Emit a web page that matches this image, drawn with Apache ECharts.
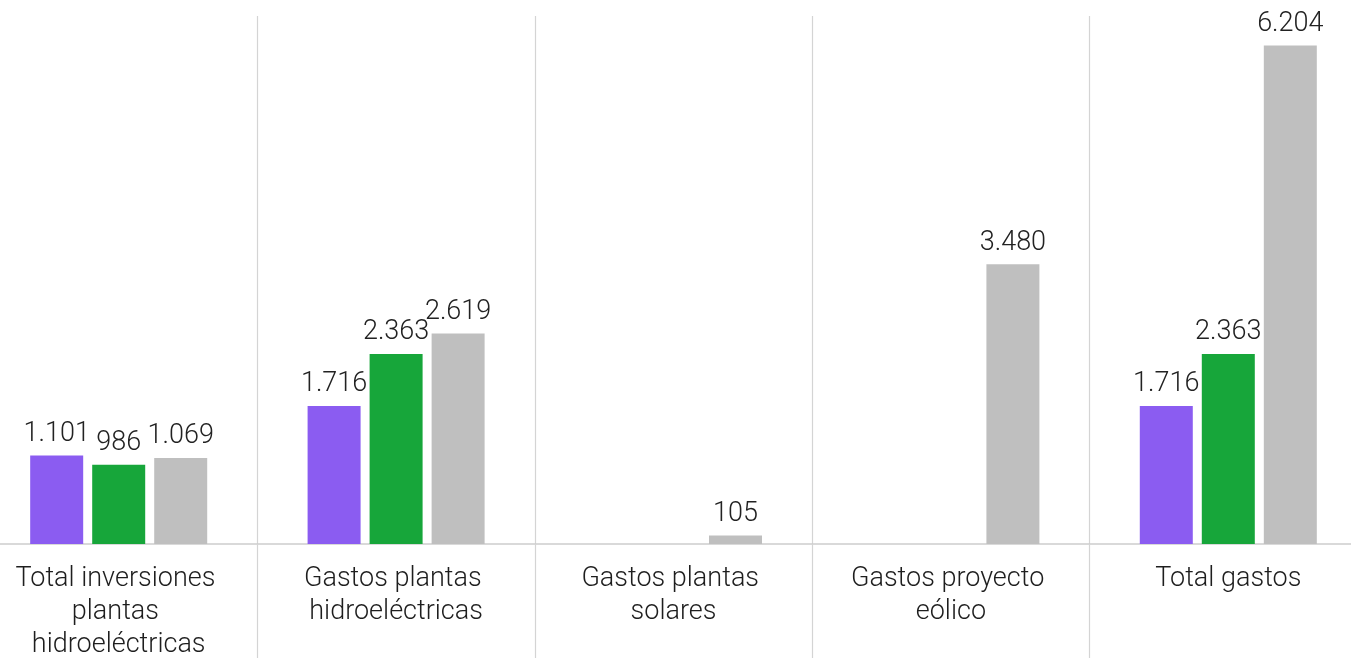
<!DOCTYPE html>
<html>
<head>
<meta charset="utf-8">
<script src="https://cdn.jsdelivr.net/npm/echarts@6/dist/echarts.min.js"></script>
<style>
  html, body { margin: 0; padding: 0; background: #fff; }
  #chart { width: 1351px; height: 658px; }
</style>
</head>
<body>
<div id="chart"></div>
<script>
// Categories along the x axis
const categories = [
  'Total inversiones plantas hidroeléctricas',
  'Gastos plantas hidroeléctricas',
  'Gastos plantas solares',
  'Gastos proyecto eólico',
  'Total gastos'
];

// Three series (purple, green, grey); null where a group has no bar
const seriesPurple = [1101, 1716, null, null, 1716];
const seriesGreen  = [986, 2363, null, null, 2363];
const seriesGrey   = [1069, 2619, 105, 3480, 6204];

const colors = ['#8b5cf1', '#17a63a', '#bfbfbf'];
const FONT = 'Roboto, "Liberation Sans", sans-serif';

// Thousands separator as a dot
function fmt(v) {
  return String(Math.round(v)).replace(/\B(?=(\d{3})+(?!\d))/g, '.');
}

function barSeries(name, data, color) {
  return {
    name: name,
    type: 'bar',
    data: data,
    barWidth: 53,
    barGap: '17%',
    itemStyle: { color: color },
    label: {
      show: true,
      position: 'top',
      distance: 8,
      color: '#222',
      fontFamily: FONT,
      fontWeight: 300,
      fontSize: 27,
      formatter: p => fmt(p.value)
    }
  };
}

const chart = echarts.init(document.getElementById('chart'), null, { renderer: 'canvas' });
chart.setOption({
  animation: false,
  backgroundColor: '#fff',
  grid: { left: -20, right: -16, top: 16, bottom: 114, outerBoundsMode: 'none' },
  xAxis: {
    type: 'category',
    data: categories,
    boundaryGap: true,
    axisLine: { show: true, lineStyle: { color: '#cccccc', width: 1.5 } },
    axisTick: { show: true, interval: 0, length: 114, lineStyle: { color: '#d4d4d4', width: 1.2 } },
    splitLine: { show: true, interval: 0, lineStyle: { color: '#d4d4d4', width: 1.2 } },
    axisLabel: {
      interval: 0,
      margin: 19,
      color: '#1e1e1e',
      fontFamily: FONT,
      fontWeight: 300,
      fontSize: 27,
      lineHeight: 33,
      width: 222,
      overflow: 'break',
      align: 'center'
    }
  },
  yAxis: {
    type: 'value',
    min: 0,
    max: 6570,
    show: false,
    splitLine: { show: false }
  },
  series: [
    barSeries('A', seriesPurple, colors[0]),
    barSeries('B', seriesGreen, colors[1]),
    barSeries('C', seriesGrey, colors[2])
  ]
});
</script>
</body>
</html>
